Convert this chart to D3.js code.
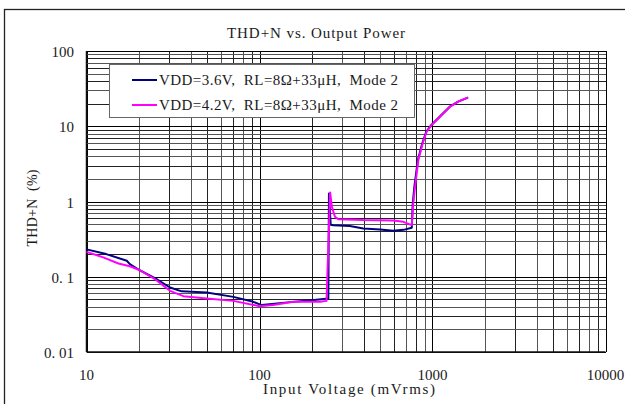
<!DOCTYPE html>
<html>
<head>
<meta charset="utf-8">
<script src="https://cdn.jsdelivr.net/npm/d3@7"></script>
<style>
  html, body { margin: 0; padding: 0; background: #fff; }
  svg { display: block; }
  text { font-family: "Liberation Serif", "DejaVu Serif", serif; fill: #1a1a1a; white-space: pre; }
</style>
</head>
<body>
<svg id="chart" width="625" height="404"></svg>
<script>
// ---- data ----
const chartTitle = "THD+N vs. Output Power";
const xAxisTitle = "Input Voltage (mVrms)";
const yAxisTitle = "THD+N  (%)";
const xTickValues = [10, 100, 1000, 10000];
const xTickLabels = ["10", "100", "1000", "10000"];
const yTickValues = [100, 10, 1, 0.1, 0.01];
const yTickLabels = ["100", "10", "1", "0. 1", "0. 01"];
const seriesNames = ["VDD=3.6V,  RL=8\u03A9+33\u03BCH,  Mode 2", "VDD=4.2V,  RL=8\u03A9+33\u03BCH,  Mode 2"];
const seriesColors = ["#000080", "#ff00ff"];

// VDD=3.6V (navy)
const vdd36Input = [10, 13, 17.1, 17.8, 19.9, 25, 30.4, 35.5, 49.5, 70.6, 92, 103, 150, 200, 250, 252, 258, 267, 333, 398, 498, 593, 680, 759, 768, 785, 822, 872, 920, 985, 1100, 1258, 1405, 1600];
const vdd36Thd   = [0.231, 0.2, 0.163, 0.147, 0.125, 0.095, 0.072, 0.064, 0.0618, 0.054, 0.0464, 0.042, 0.046, 0.0489, 0.0514, 1.28, 0.49, 0.485, 0.471, 0.439, 0.425, 0.408, 0.42, 0.447, 0.9, 1.55, 3.5, 5.9, 8.45, 10.4, 13.4, 18.2, 21.2, 24.0];

// VDD=4.2V (magenta)
const vdd42Input = [10, 12.5, 15.3, 17.8, 19.9, 25, 30.4, 36.3, 49.5, 70.6, 100, 120, 157, 224, 244, 256, 262, 273, 285, 398, 593, 678, 759, 774, 793, 828, 877, 925, 989, 1104, 1262, 1409, 1610];
const vdd42Thd   = [0.214, 0.181, 0.150, 0.138, 0.125, 0.092, 0.065, 0.0552, 0.0514, 0.0478, 0.0406, 0.042, 0.0464, 0.0464, 0.0478, 1.32, 0.85, 0.626, 0.583, 0.566, 0.56, 0.537, 0.485, 0.94, 1.57, 3.55, 5.9, 8.45, 10.4, 13.4, 18.2, 21.2, 24.2];

// ---- layout ----
const svg = d3.select("#chart");
const pLeft = 86.5, pRight = 605.5, pTop = 51, pBottom = 352;

const x = d3.scaleLog().domain([10, 10000]).range([pLeft, pRight]);
const y = d3.scaleLog().domain([0.01, 100]).range([pBottom, pTop]);

// outer frame (extends beyond canvas on right/bottom)
svg.append("rect")
  .attr("x", 4.5).attr("y", 9.5).attr("width", 800).attr("height", 600)
  .attr("fill", "none").attr("stroke", "#222").attr("stroke-width", 1.3);

// grid
const xGrid = [];
for (let d = 10; d < 10000; d *= 10) for (let m = 1; m < 10; m++) xGrid.push(d * m);
xGrid.push(10000);
const yGrid = [];
for (let d = 0.01; d < 99; d *= 10) for (let m = 1; m < 10; m++) yGrid.push(+(d * m).toPrecision(3));
yGrid.push(100);

const isDecade = v => Math.abs(Math.log10(v) - Math.round(Math.log10(v))) < 1e-6;
const grid = svg.append("g").attr("shape-rendering", "crispEdges");
grid.selectAll("line.v").data(xGrid).join("line")
  .attr("x1", d => Math.round(x(d)) + 0.5).attr("x2", d => Math.round(x(d)) + 0.5)
  .attr("y1", pTop).attr("y2", pBottom)
  .attr("stroke", (d, i) => isDecade(d) ? "#000" : (i % 2 ? "#555" : "#222"))
  .attr("stroke-width", 1);
grid.selectAll("line.h").data(yGrid).join("line")
  .attr("y1", d => Math.round(y(d)) + 0.5).attr("y2", d => Math.round(y(d)) + 0.5)
  .attr("x1", pLeft).attr("x2", pRight)
  .attr("stroke", (d, i) => isDecade(d) ? "#000" : (i % 2 ? "#555" : "#222"))
  .attr("stroke-width", 1);

// axis lines
svg.append("line").attr("x1", pLeft).attr("x2", pLeft).attr("y1", pTop).attr("y2", pBottom)
  .attr("stroke", "#111").attr("stroke-width", 1.5);
svg.append("line").attr("x1", pLeft).attr("x2", pRight).attr("y1", pBottom).attr("y2", pBottom)
  .attr("stroke", "#111").attr("stroke-width", 1.5);

// tick labels
svg.selectAll("text.xt").data(xTickValues).join("text")
  .attr("x", d => x(d)).attr("y", 380)
  .attr("text-anchor", "middle").attr("font-size", 15)
  .text((d, i) => xTickLabels[i]);
svg.selectAll("text.yt").data(yTickValues).join("text")
  .attr("x", 74).attr("y", d => y(d) + 6)
  .attr("text-anchor", "end").attr("font-size", 15)
  .text((d, i) => yTickLabels[i]);

// titles
svg.append("text").attr("x", 316).attr("y", 38).attr("text-anchor", "middle")
  .attr("font-size", 15).attr("textLength", 178).attr("lengthAdjust", "spacing").text(chartTitle);
svg.append("text").attr("x", 349).attr("y", 394).attr("text-anchor", "middle")
  .attr("font-size", 15).attr("textLength", 172).attr("lengthAdjust", "spacing").text(xAxisTitle);
svg.append("text").attr("transform", "translate(37,208) rotate(-90)")
  .attr("text-anchor", "middle").attr("font-size", 14)
  .attr("textLength", 77).attr("lengthAdjust", "spacing").text(yAxisTitle);

// series
const line = d3.line().x(d => x(d[0])).y(d => y(d[1]));
const s36 = vdd36Input.map((v, i) => [v, vdd36Thd[i]]);
const s42 = vdd42Input.map((v, i) => [v, vdd42Thd[i]]);
svg.append("path").datum(s36).attr("d", line).attr("fill", "none")
  .attr("stroke", seriesColors[0]).attr("stroke-width", 2).attr("stroke-linejoin", "round");
svg.append("path").datum(s42).attr("d", line).attr("fill", "none")
  .attr("stroke", seriesColors[1]).attr("stroke-width", 2).attr("stroke-linejoin", "round");

// legend
const lg = svg.append("g");
lg.append("rect").attr("x", 109.5).attr("y", 64.5).attr("width", 305).attr("height", 53)
  .attr("fill", "#fff").attr("stroke", "#666").attr("stroke-width", 1);
seriesNames.forEach((name, i) => {
  const ly = 80 + i * 25;
  lg.append("line").attr("x1", 132).attr("x2", 157).attr("y1", ly).attr("y2", ly)
    .attr("stroke", seriesColors[i]).attr("stroke-width", 2);
  lg.append("text").attr("x", 159).attr("y", ly + 5).attr("font-size", 15)
    .attr("textLength", 239).attr("lengthAdjust", "spacing").text(name);
});
</script>
</body>
</html>
